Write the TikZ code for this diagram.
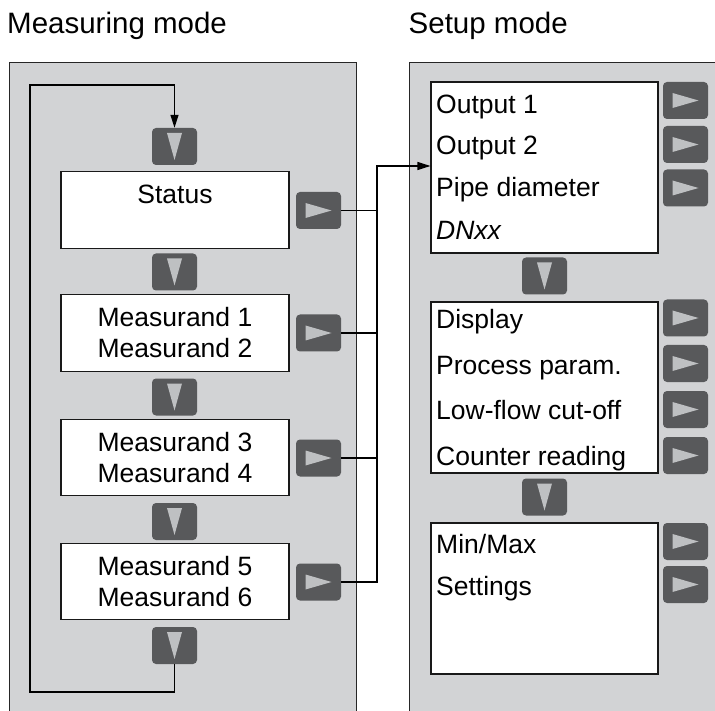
\documentclass[tikz,border=0pt]{standalone}
\usepackage{fontspec}
\setmainfont{Liberation Sans}
\usetikzlibrary{arrows.meta}

\definecolor{panelgray}{RGB}{210,211,213}
\definecolor{keygray}{RGB}{88,89,91}
\definecolor{glyphgray}{RGB}{190,192,194}

\begin{document}
\begin{tikzpicture}[x=1pt, y=-1pt,
	panel/.style = {draw=black!85, line width=1pt, fill=panelgray},
	screen/.style = {draw=black!90, line width=1.1pt, fill=white, minimum width=228pt, minimum height=76.5pt, align=center, font=\fontsize{26.5}{31}\selectfont},
	setbox/.style = {draw=black!90, line width=1.1pt, fill=white, minimum width=227pt},
	item/.style = {anchor=base west, inner sep=0pt, font=\fontsize{26.5}{31}\selectfont},
	title/.style = {anchor=base west, inner sep=0pt, font=\fontsize{29.5}{35}\selectfont},
	key/.style = {fill=keygray, rounded corners=4pt, minimum width=45pt, minimum height=37pt, inner sep=0pt},
	downkey/.style = {key, path picture={\fill[glyphgray, sharp corners]
		([shift={(-7.5pt,13.5pt)}]path picture bounding box.center) --
		([shift={(7.5pt,13.5pt)}]path picture bounding box.center) --
		([shift={(0pt,-13.5pt)}]path picture bounding box.center) -- cycle;}},
	rightkey/.style = {key, path picture={\fill[glyphgray, sharp corners]
		([shift={(-13pt,7.5pt)}]path picture bounding box.center) --
		([shift={(-13pt,-7.5pt)}]path picture bounding box.center) --
		([shift={(13pt,0pt)}]path picture bounding box.center) -- cycle;}},
	wire/.style = {draw=black, line width=1.2pt},
	tip/.style = {-{Triangle[length=13pt, width=8pt]}}]

	\clip (0,0) rectangle (715,711);

	% headings
	\node[title] (measttl) at (7,34) {Measuring mode};
	\node[title] (setttl) at (408.5,34) {Setup mode};

	\draw[panel] (9,63) rectangle (356,730);
	\draw[panel] (409,63) rectangle (730,730);

	% measuring mode
	\node[downkey] (dn1) at (174.5,146.5) {};
	\node[screen] (status) at (175,210) {Status\\~};
	\node[rightkey] (rk1) at (318.5,210.5) {};
	\node[downkey] (dn2) at (174.5,272) {};
	\node[screen] (meas12) at (175,333) {Measurand 1\\Measurand 2};
	\node[rightkey] (rk2) at (318.5,333) {};
	\node[downkey] (dn3) at (174.5,397) {};
	\node[screen] (meas34) at (175,457.5) {Measurand 3\\Measurand 4};
	\node[rightkey] (rk3) at (318.5,458) {};
	\node[downkey] (dn4) at (174.5,521.5) {};
	\node[screen] (meas56) at (175,581.5) {Measurand 5\\Measurand 6};
	\node[rightkey] (rk4) at (318.5,582) {};
	\node[downkey] (dn5) at (174.5,645.5) {};

	\coordinate (loopbot) at (30,692);
	\coordinate (looptop) at (30,85);
	\draw[wire, tip] (dn5.south) |- (loopbot) -- (looptop) -| (dn1.north);

	% setup mode
	\node[setbox, minimum height=171pt] (outbox) at (544.5,167.5) {};
	\node[item] (out1) at (436,114) {Output 1};
	\node[item] (out2) at (436,155) {Output 2};
	\node[item] (pipe) at (436,197) {Pipe diameter};
	\node[item] (dnxx) at (436,240) {\textit{DNxx}};
	\node[rightkey] (sk1) at (685.5,100.5) {};
	\node[rightkey] (sk2) at (685.5,144.5) {};
	\node[rightkey] (sk3) at (685.5,188) {};

	\node[downkey] (sd1) at (544.5,276) {};

	\node[setbox, minimum height=171pt] (dispbox) at (544.5,387.5) {};
	\node[item] (disp) at (436,329) {Display};
	\node[item] (proc) at (436,374) {Process param.};
	\node[item] (lowflow) at (436,419) {Low-flow cut-off};
	\node[item] (counter) at (436,465) {Counter reading};
	\node[rightkey] (sk4) at (685.5,318) {};
	\node[rightkey] (sk5) at (685.5,363.5) {};
	\node[rightkey] (sk6) at (685.5,409.5) {};
	\node[rightkey] (sk7) at (685.5,455.5) {};

	\node[downkey] (sd2) at (544.5,497) {};

	\node[setbox, minimum height=151pt] (mmbox) at (544.5,598.5) {};
	\node[item] (minmax) at (436,553) {Min/Max};
	\node[item] (settings) at (436,595) {Settings};
	\node[rightkey] (sk8) at (685.5,541.5) {};
	\node[rightkey] (sk9) at (685.5,584.5) {};

	% links into setup
	\coordinate (bus) at (377,166);
	\draw[wire, tip] (rk4.east) -| (bus) -- (bus -| outbox.west);
	\draw[wire] (rk1.east) -- (rk1.east -| bus);
	\draw[wire] (rk2.east) -- (rk2.east -| bus);
	\draw[wire] (rk3.east) -- (rk3.east -| bus);

\end{tikzpicture}
\end{document}
